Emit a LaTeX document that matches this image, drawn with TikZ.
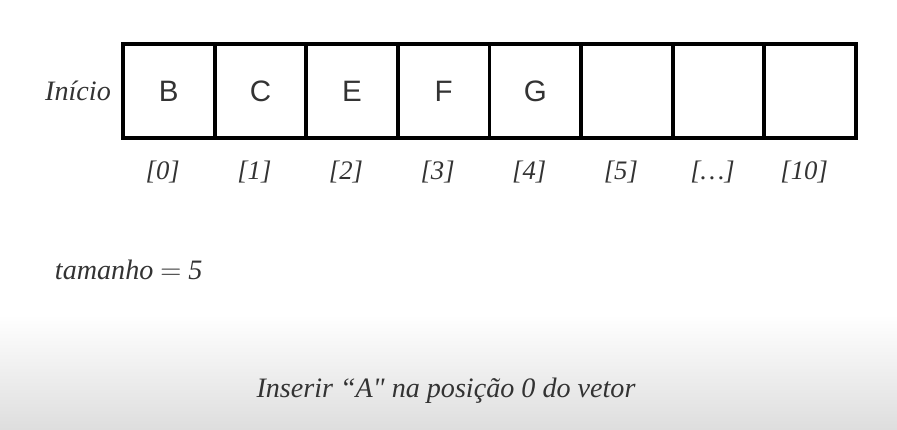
\documentclass[tikz,border=0pt]{standalone}
\usepackage{fontspec}
\setmainfont{Liberation Serif}
\newfontfamily\cellfont{Liberation Sans}
\usetikzlibrary{positioning}
\definecolor{txtgray}{HTML}{333333}
\definecolor{bandgray}{HTML}{DEDEDE}
\tikzset{
    cell/.style={draw,line width=2.8pt,minimum width=2.29cm,minimum height=2.35cm,
        inner sep=0pt,outer sep=0pt,font=\cellfont\fontsize{21}{21}\selectfont,text=txtgray},
    idx/.style={font=\itshape\fontsize{19}{19}\selectfont,text=txtgray},
    note/.style={font=\itshape\fontsize{20}{20}\selectfont,text=txtgray}
}
\begin{document}
\begin{tikzpicture}[x=0.025cm,y=-0.025cm]
    \useasboundingbox (0,0) rectangle (897,429);
    % faded band at the bottom
    \shade[top color=white,bottom color=bandgray] (0,315) rectangle (897,429);
    % the vector cells
    \node[cell] (c0) at (168.8,91) {B};
    \foreach \v [count=\i from 1, remember=\i as \j (initially 0)] in {C,E,F,G,{},{},{}}
        \node[cell,right=0pt of c\j] (c\i) {\v};
    % indices under the cells
    \foreach \t [count=\i from 0] in {[0],[1],[2],[3],[4],[5],[\ldots],[10]}
        \node[idx] (i\i) at ([xshift=-0.15cm]c\i.center |- 0,172) {\t};
    \node[note,left=0.18cm of c0] (inicio) {Início};
    \node[note,anchor=west] (tam) at (50,270) {tamanho $=$ 5};
    \node[note] (msg) at (446,391) {Inserir “A{\addfontfeatures{Ligatures=TeXOff}"} na posição 0 do vetor};
\end{tikzpicture}
\end{document}
